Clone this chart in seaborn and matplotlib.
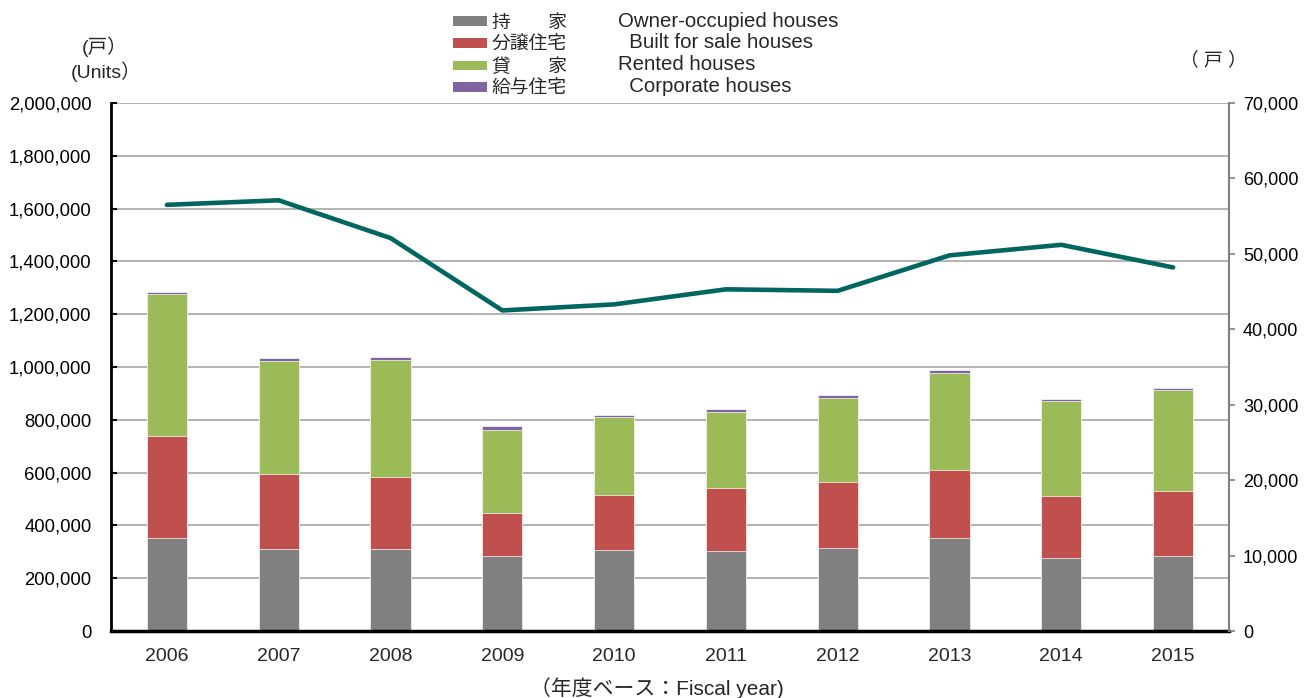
import numpy as np
import pandas as pd
import seaborn as sns
import matplotlib.pyplot as plt
from matplotlib.patches import Patch
from matplotlib.ticker import FuncFormatter, FixedLocator

years = ['2006', '2007', '2008', '2009', '2010', '2011', '2012', '2013', '2014', '2015']
owner = [354000, 310000, 310000, 285000, 305000, 304000, 315000, 352000, 278000, 283000]
for_sale = [383000, 283000, 272000, 163000, 212000, 237000, 249000, 259000, 235000, 247000]
rented = [538000, 430000, 445000, 312000, 293000, 290000, 320000, 367000, 358000, 381000]
corporate = [10000, 12000, 12000, 15000, 9000, 10000, 9000, 9000, 9000, 9000]
line_vals = [56500, 57100, 52100, 42500, 43300, 45300, 45100, 49800, 51200, 48200]

labels_jp = ['持\u3000\u3000家', '分譲住宅', '貸\u3000\u3000家', '給与住宅']
labels_en = ['Owner-occupied houses', '  Built for sale houses', 'Rented houses', '  Corporate houses']
colors = ['#808080', '#C0504D', '#9BBB59', '#8064A2']
line_color = '#00665F'

sns.set_theme(style='white')
plt.rcParams['font.family'] = ['Liberation Sans', 'Noto Sans CJK JP']

df = pd.DataFrame({'year': years, 'owner': owner, 'sale': for_sale,
                   'rented': rented, 'corp': corporate})
stack = df[['owner', 'sale', 'rented', 'corp']].cumsum(axis=1)

fig = plt.figure(figsize=(13.13, 6.98), dpi=100)
ax = fig.add_axes([111/1313, 1-631/698, (1229-111)/1313, 528/698])

# overlay cumulative totals, tallest first
for col, c in zip(['corp', 'rented', 'sale', 'owner'], colors[::-1]):
    sns.barplot(x=df['year'], y=stack[col], color=c, width=0.36, ax=ax,
                edgecolor=(1, 1, 1, 0.7), linewidth=0.7, saturation=1)

ax.set_ylim(0, 2000000)
ax.set_xlim(-0.5, len(years) - 0.5)
ax.set_yticks(np.arange(0, 2000001, 200000))
ax.yaxis.set_major_formatter(FuncFormatter(lambda v, p: f'{v:,.0f}'))
ax.grid(axis='y', color='#A6A6A6', linewidth=1.2)
ax.set_axisbelow(True)
ax.set_xlabel('')
ax.set_ylabel('')
for s in ['top', 'right']:
    ax.spines[s].set_visible(False)
ax.spines['left'].set_color('black')
ax.spines['left'].set_linewidth(2)
ax.spines['bottom'].set_color('black')
ax.spines['bottom'].set_linewidth(2.5)
ax.tick_params(axis='y', direction='in', length=4, width=1.5, colors='black',
               labelsize=13.3, pad=14)
ax.tick_params(axis='x', which='major', length=0, labelsize=14, pad=12)
ax.xaxis.set_minor_locator(FixedLocator(np.arange(0.5, len(years) - 1, 1)))
ax.tick_params(axis='x', which='minor', direction='in', length=5, width=1.5,
               colors='black')

ax2 = ax.twinx()
sns.lineplot(x=np.arange(len(years)), y=line_vals, color=line_color,
             linewidth=3.3, ax=ax2, solid_capstyle='round')
ax2.set_ylim(0, 70000)
ax2.set_yticks(np.arange(0, 70001, 10000))
ax2.yaxis.set_major_formatter(FuncFormatter(lambda v, p: f'{v:,.0f}'))
ax2.set_ylabel('')
for s in ['top', 'left', 'bottom']:
    ax2.spines[s].set_visible(False)
ax2.spines['right'].set_color('#808080')
ax2.spines['right'].set_linewidth(1.5)
ax2.tick_params(axis='y', direction='out', length=4, width=1.2, colors='#808080',
                labelcolor='black', labelsize=13, pad=6)

handles = [Patch(facecolor=c, edgecolor='none') for c in colors]
fig.legend(handles, labels_jp, loc='upper left', bbox_to_anchor=(453/1313, 1-14.5/698),
           frameon=False, fontsize=13.5, handlelength=1.8, handleheight=0.42,
           handletextpad=0.28, labelspacing=0.26, borderpad=0, borderaxespad=0)
for i, t in enumerate(labels_en):
    fig.text(618/1313, 1-(21.3 + 21.67*i)/698, t, va='center', ha='left', fontsize=14.7)

fig.text(105/1313, 1-47/698, '(戸）', ha='center', va='center', fontsize=14)
fig.text(106/1313, 1-72/698, '(Units）', ha='center', va='center', fontsize=14)
fig.text(1213/1313, 1-60/698, '（ 戸 ）', ha='center', va='center', fontsize=13.5)
fig.text(657/1313, 1-688/698, '（年度ベース：Fiscal year)', ha='center', va='center', fontsize=15)

fig.savefig('out.png', dpi=100)
